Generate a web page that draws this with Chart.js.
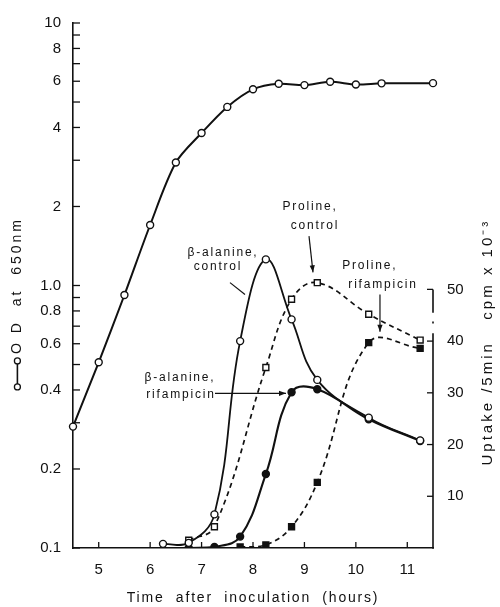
<!DOCTYPE html>
<html>
<head>
<meta charset="utf-8">
<script src="https://cdn.jsdelivr.net/npm/chart.js@4.4.0/dist/chart.umd.min.js"></script>
<style>
html,body{margin:0;padding:0;background:#fff;}
#wrap{width:500px;height:607px;position:relative;}
</style>
</head>
<body>
<div id="wrap"><canvas id="c"></canvas></div>
<script>
// ---------------- DATA ----------------
const odHours = [4.5, 5, 5.5, 6, 6.5, 7, 7.5, 8, 8.5, 9, 9.5, 10, 10.5, 11.5];
const odValues = [0.29, 0.51, 0.92, 1.70, 2.94, 3.81, 4.79, 5.59, 5.87, 5.80, 5.97, 5.83, 5.89, 5.90];

const alaCtrlHours = [6.25, 6.75, 7.25, 7.75, 8.25, 8.75, 9.25, 10.25, 11.25];
const alaCtrlValues = [0.8, 1.0, 6.5, 40.0, 55.8, 44.2, 32.5, 25.2, 20.8];

const alaRifHours = [6.75, 7.25, 7.75, 8.25, 8.75, 9.25, 10.25, 11.25];
const alaRifValues = [0.0, 0.2, 2.2, 14.3, 30.1, 30.7, 24.9, 20.7];

const proCtrlHours = [6.75, 7.25, 8.25, 8.75, 9.25, 10.25, 11.25];
const proCtrlValues = [1.5, 4.1, 34.9, 48.1, 51.3, 45.2, 40.2];

const proRifHours = [7.75, 8.25, 8.75, 9.25, 10.25, 11.25];
const proRifValues = [0.2, 0.6, 4.1, 12.7, 39.7, 38.6];

const xTickValues = [5, 6, 7, 8, 9, 10, 11];
const odTickValues = [0.1, 0.2, 0.3, 0.4, 0.5, 0.6, 0.7, 0.8, 0.9, 1, 2, 3, 4, 5, 6, 7, 8, 9, 10];
const odLabelValues = [0.1, 0.2, 0.4, 0.6, 0.8, 1, 2, 4, 6, 8, 10];
const odLabelTexts = ['0.1', '0.2', '0.4', '0.6', '0.8', '1.0', '2', '4', '6', '8', '10'];
const uptakeTickValues = [10, 20, 30, 40, 50];

const xTitle = 'Time  after  inoculation  (hours)';
const odTitle = 'O D  at  650nm';
const uptakeTitle = 'Uptake /5min   cpm x 10\u207B\u00B3';

// ---------------- STYLE / LAYOUT ----------------
const BLACK = '#111';
const FONT = "'Liberation Sans', Arial, sans-serif";
const titleSpacing = { x: 1.8, y: 3 };

// annotation labels positioned in data units (hours, uptake)
const notes = [
  { text: 'β-alanine,', at: [7.417, 57.1] },
  { text: 'control', at: [7.319, 54.4] },
  { text: 'Proline,', at: [9.108, 65.9] },
  { text: 'control', at: [9.205, 62.3] },
  { text: 'Proline,', at: [10.27, 54.6] },
  { text: 'rifampicin', at: [10.528, 51.0] },
  { text: 'β-alanine,', at: [6.58, 33.0] },
  { text: 'rifampicin', at: [6.6, 29.7] }
];
const pointers = [
  { from: [7.553, 51.3], to: [7.844, 49.0], head: false },
  { from: [9.089, 60.3], to: [9.167, 53.3], head: true },
  { from: [10.469, 49.0], to: [10.469, 41.8], head: true },
  { from: [7.261, 29.9], to: [8.642, 29.9], head: true }
];

// letter spacing for axis titles
if (Chart.Scale && Chart.Scale.prototype.drawTitle) {
  const origDrawTitle = Chart.Scale.prototype.drawTitle;
  Chart.Scale.prototype.drawTitle = function () {
    const ctx = this.ctx;
    ctx.save();
    ctx.letterSpacing = (titleSpacing[this.id] || 0) + 'px';
    origDrawTitle.call(this);
    ctx.restore();
  };
}

function pts(xs, ys) { return xs.map((x, i) => ({ x: x, y: ys[i] })); }

const decor = {
  id: 'decor',
  afterDraw(chart) {
    const { ctx, chartArea } = chart;
    const x = chart.scales.x, y = chart.scales.y, y2 = chart.scales.y2;
    ctx.save();
    ctx.strokeStyle = BLACK;
    ctx.fillStyle = BLACK;
    ctx.lineWidth = 1.3;
    // left ticks (inward)
    const lx = chartArea.left;
    odTickValues.forEach(v => {
      const py = y.getPixelForValue(v);
      ctx.beginPath(); ctx.moveTo(lx, py); ctx.lineTo(lx + 7, py); ctx.stroke();
    });
    // bottom ticks (inward)
    const by = chartArea.bottom;
    xTickValues.forEach(v => {
      const px = x.getPixelForValue(v);
      ctx.beginPath(); ctx.moveTo(px, by); ctx.lineTo(px, by - 6); ctx.stroke();
    });
    // right axis line 0..50 with a small break
    const rx = chartArea.right;
    ctx.lineWidth = 1.6;
    ctx.beginPath();
    ctx.moveTo(rx, y2.getPixelForValue(0) + 0.8); ctx.lineTo(rx, y2.getPixelForValue(41.5));
    ctx.moveTo(rx, y2.getPixelForValue(45.5)); ctx.lineTo(rx, y2.getPixelForValue(50));
    ctx.stroke();
    ctx.fillRect(rx - 0.8, y2.getPixelForValue(43.6) - 1, 1.6, 2);
    ctx.lineWidth = 1.3;
    uptakeTickValues.forEach(v => {
      const py = y2.getPixelForValue(v);
      ctx.beginPath(); ctx.moveTo(rx, py); ctx.lineTo(rx - 6, py); ctx.stroke();
    });
    // annotations
    ctx.font = '12px ' + FONT;
    ctx.letterSpacing = '1.8px';
    ctx.textAlign = 'center';
    ctx.textBaseline = 'middle';
    notes.forEach(n => {
      ctx.fillText(n.text, x.getPixelForValue(n.at[0]), y2.getPixelForValue(n.at[1]));
    });
    ctx.letterSpacing = '0px';
    ctx.lineWidth = 1.2;
    pointers.forEach(p => {
      const x1 = x.getPixelForValue(p.from[0]), y1 = y2.getPixelForValue(p.from[1]);
      const x2 = x.getPixelForValue(p.to[0]), y2p = y2.getPixelForValue(p.to[1]);
      ctx.beginPath(); ctx.moveTo(x1, y1); ctx.lineTo(x2, y2p); ctx.stroke();
      if (p.head) {
        const a = Math.atan2(y2p - y1, x2 - x1), L = 7, W = 2.6;
        ctx.beginPath();
        ctx.moveTo(x2, y2p);
        ctx.lineTo(x2 - L * Math.cos(a) + W * Math.sin(a), y2p - L * Math.sin(a) - W * Math.cos(a));
        ctx.lineTo(x2 - L * Math.cos(a) - W * Math.sin(a), y2p - L * Math.sin(a) + W * Math.cos(a));
        ctx.closePath(); ctx.fill();
      }
    });
    // right axis title (reads bottom to top)
    ctx.save();
    ctx.font = '15px ' + FONT;
    ctx.letterSpacing = '3px';
    ctx.translate(rx + 55, y2.getPixelForValue(39.8));
    ctx.rotate(-Math.PI / 2);
    ctx.fillText(uptakeTitle, 0, 0);
    ctx.restore();
    // left title symbol (o—o) below the title text
    ctx.save();
    ctx.font = '14px ' + FONT;
    ctx.letterSpacing = titleSpacing.y + 'px';
    const w = ctx.measureText(odTitle).width;
    ctx.restore();
    const sx = y.left + 16.8 / 2 + 9;
    const cy = (y.top + y.bottom) / 2;
    const s1 = cy + w / 2 + 7, s2 = s1 + 26;
    ctx.lineWidth = 1.6;
    ctx.beginPath(); ctx.moveTo(sx, s1); ctx.lineTo(sx, s2); ctx.stroke();
    [s1, s2].forEach(sy => {
      ctx.beginPath(); ctx.arc(sx, sy, 3, 0, Math.PI * 2);
      ctx.fillStyle = '#fff'; ctx.fill(); ctx.lineWidth = 1.3; ctx.stroke();
    });
    ctx.restore();
  }
};

const common = { borderColor: BLACK, pointBorderColor: BLACK, pointBorderWidth: 1.4, pointRadius: 3.5, pointHoverRadius: 3.5, fill: false };

new Chart(document.getElementById('c'), {
  type: 'line',
  data: {
    datasets: [
      Object.assign({}, common, { label: 'OD at 650nm', data: pts(odHours, odValues), yAxisID: 'y', borderWidth: 2, pointBackgroundColor: '#fff', pointStyle: 'circle', tension: 0.3, clip: 8 }),
      Object.assign({}, common, { label: 'β-alanine, control', data: pts(alaCtrlHours, alaCtrlValues), yAxisID: 'y2', borderWidth: 1.8, pointBackgroundColor: '#fff', pointStyle: 'circle', tension: 0.4 }),
      Object.assign({}, common, { label: 'β-alanine, rifampicin', data: pts(alaRifHours, alaRifValues), yAxisID: 'y2', borderWidth: 2.1, pointBackgroundColor: BLACK, pointStyle: 'circle', tension: 0.4 }),
      Object.assign({}, common, { label: 'Proline, control', data: pts(proCtrlHours, proCtrlValues), yAxisID: 'y2', borderWidth: 1.7, borderDash: [5, 4], pointBackgroundColor: '#fff', pointStyle: 'rect', pointRadius: 4.2, pointHoverRadius: 4.2, tension: 0.4 }),
      Object.assign({}, common, { label: 'Proline, rifampicin', data: pts(proRifHours, proRifValues), yAxisID: 'y2', borderWidth: 1.7, borderDash: [5, 4], pointBackgroundColor: BLACK, pointStyle: 'rect', pointRadius: 4.2, pointHoverRadius: 4.2, tension: 0.4 })
    ]
  },
  options: {
    responsive: true,
    maintainAspectRatio: false,
    animation: false,
    layout: { padding: { top: 18, left: 0, right: 0, bottom: 0 } },
    plugins: { legend: { display: false }, tooltip: { enabled: false } },
    scales: {
      x: {
        type: 'linear', position: 'bottom', min: 4.5, max: 11.5,
        grid: { display: false, drawTicks: false },
        border: { display: true, color: BLACK, width: 1.6 },
        afterBuildTicks: s => { s.ticks = xTickValues.map(v => ({ value: v })); },
        ticks: { color: BLACK, font: { family: FONT, size: 15 }, padding: 13, autoSkip: false, maxRotation: 0, callback: v => String(v) },
        title: { display: true, text: xTitle, color: BLACK, font: { family: FONT, size: 14 }, padding: { top: 0, bottom: 0 } },
        afterFit: s => { s.height = 59; }
      },
      y: {
        type: 'logarithmic', position: 'left', min: 0.1, max: 10,
        grid: { display: false, drawTicks: false },
        border: { display: true, color: BLACK, width: 1.6 },
        afterBuildTicks: s => { s.ticks = odTickValues.map(v => ({ value: v })); },
        ticks: {
          color: BLACK, font: { family: FONT, size: 15 }, padding: 12, autoSkip: false,
          callback: v => { const i = odLabelValues.indexOf(v); return i >= 0 ? odLabelTexts[i] : ''; }
        },
        title: { display: true, text: odTitle, color: BLACK, font: { family: FONT, size: 14 }, padding: { top: 9, bottom: 0 } },
        afterFit: s => { s.width = 73; }
      },
      y2: {
        type: 'linear', position: 'right', min: 0, max: 101.5,
        grid: { display: false, drawTicks: false },
        border: { display: false },
        afterBuildTicks: s => { s.ticks = uptakeTickValues.map(v => ({ value: v })); },
        ticks: { color: BLACK, font: { family: FONT, size: 15 }, padding: 14, autoSkip: false, callback: v => String(v) },
        afterFit: s => { s.width = 67; }
      }
    }
  },
  plugins: [decor]
});
</script>
</body>
</html>
